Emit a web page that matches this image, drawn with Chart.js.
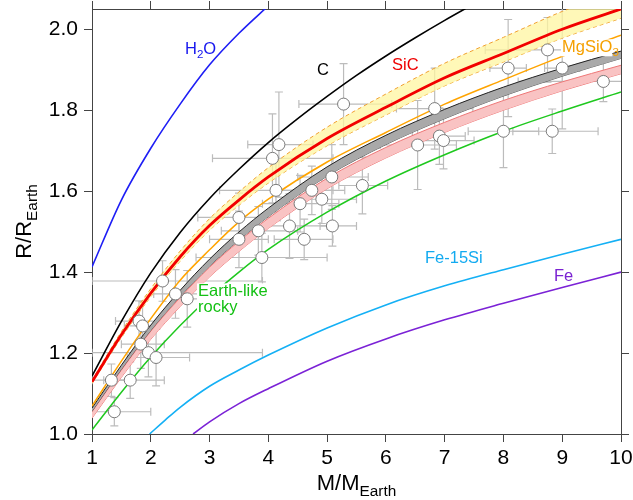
<!DOCTYPE html>
<html>
<head>
<meta charset="utf-8">
<script src="https://cdn.jsdelivr.net/npm/chart.js@4.4.1/dist/chart.umd.min.js"></script>
<style>
  html, body { margin: 0; padding: 0; background: #fff; }
  #wrap { width: 633px; height: 500px; }
</style>
</head>
<body>
<div id="wrap"><canvas id="chart" width="633" height="500"></canvas></div>
<script>
// Values (mass in M_Earth, radius in R_Earth)
const xTickValues = [1, 2, 3, 4, 5, 6, 7, 8, 9, 10];
const yTickValues = [1.0, 1.2, 1.4, 1.6, 1.8, 2.0];

const massGrid = [1, 1.5, 2, 2.5, 3, 3.5, 4, 5, 6, 7, 8, 9, 10];

const h2oMass = [1, 1.5, 2, 2.5, 3, 3.5, 4];
const h2oRadius = [1.413, 1.578, 1.706, 1.815, 1.912, 1.99, 2.058];

const carbonMass = [1, 1.5, 2, 2.5, 3, 3.5, 4, 4.5, 5, 5.5, 6, 6.5, 7, 7.5];
const carbonRadius = [1.143, 1.278, 1.398, 1.498, 1.582, 1.654, 1.72, 1.779, 1.834, 1.886, 1.934, 1.979, 2.022, 2.063];

const sicRadius = [1.129, 1.245, 1.348, 1.438, 1.515, 1.578, 1.635, 1.73, 1.807, 1.88, 1.94, 2.0, 2.05];
const sicUpper = [1.133, 1.253, 1.359, 1.452, 1.532, 1.598, 1.658, 1.758, 1.84, 1.916, 1.98, 2.044, 2.098];
const sicLower = [1.125, 1.238, 1.339, 1.427, 1.503, 1.565, 1.62, 1.712, 1.788, 1.86, 1.919, 1.978, 2.027];

const mgsio3Radius = [1.069, 1.18, 1.285, 1.38, 1.455, 1.524, 1.58, 1.672, 1.745, 1.815, 1.875, 1.933, 1.985];

const grayUpper = [1.064, 1.17, 1.269, 1.355, 1.432, 1.499, 1.558, 1.66, 1.738, 1.802, 1.857, 1.904, 1.946];
const grayLower = [1.056, 1.16, 1.256, 1.34, 1.415, 1.479, 1.537, 1.637, 1.715, 1.779, 1.835, 1.884, 1.928];
const pinkUpper = [1.055, 1.158, 1.254, 1.337, 1.412, 1.476, 1.533, 1.632, 1.708, 1.77, 1.824, 1.87, 1.911];
const pinkLower = [1.039, 1.14, 1.234, 1.315, 1.388, 1.451, 1.508, 1.606, 1.682, 1.745, 1.8, 1.848, 1.89];

const rockyRadius = [1.01, 1.103, 1.19, 1.268, 1.338, 1.4, 1.456, 1.548, 1.625, 1.69, 1.748, 1.798, 1.845];

const fe15siMass = [1.98, 2.25, 2.5, 3, 3.5, 4, 5, 6, 7, 8, 9, 10];
const fe15siRadius = [1.0, 1.035, 1.066, 1.118, 1.158, 1.195, 1.262, 1.319, 1.366, 1.406, 1.444, 1.481];

const feMass = [2.72, 3, 3.5, 4, 5, 6, 7, 8, 9, 10];
const feRadius = [1.0, 1.03, 1.075, 1.112, 1.18, 1.235, 1.282, 1.323, 1.362, 1.4];

// planets with error bars
const planetMass = [2.20, 2.42, 2.62, 1.80, 1.86, 1.83, 1.96, 2.09, 1.33, 1.65, 1.38,
  4.18, 4.07, 4.13, 3.50, 3.83, 3.50, 3.89, 4.36, 4.61, 4.54, 4.74, 4.91, 5.08, 5.09,
  5.28, 6.83, 6.91, 6.98, 6.54, 5.60, 8.75, 8.08, 9.00, 9.70, 8.00, 8.83];
const planetRadius = [1.378, 1.346, 1.334, 1.279, 1.267, 1.222, 1.201, 1.189, 1.133, 1.133, 1.055,
  1.715, 1.681, 1.602, 1.535, 1.502, 1.481, 1.436, 1.514, 1.481, 1.569, 1.602, 1.580, 1.635, 1.514,
  1.815, 1.804, 1.736, 1.725, 1.714, 1.614, 1.949, 1.904, 1.904, 1.871, 1.748, 1.748];
const massLow = [1.0, 2.05, 2.4, 1.4, 1.55, 1.5, 1.0, 1.6, 1.0, 1.2, 1.0,
  3.65, 3.05, 3.17, 2.8, 3.2, 3.0, 2.77, 3.7, 4.1, 3.9, 4.2, 4.3, 4.5, 4.88,
  4.52, 6.18, 6.45, 6.5, 5.9, 5.2, 7.69, 7.77, 8.7, 8.25, 7.4, 8.16];
const massHigh = [3.9, 2.8, 2.85, 2.2, 2.15, 2.23, 3.9, 2.66, 1.6, 2.23, 2.0,
  4.76, 5.1, 5.1, 4.2, 4.5, 4.0, 5.0, 5.0, 5.1, 5.2, 5.3, 5.5, 5.7, 5.5,
  6.1, 7.48, 7.35, 7.5, 7.2, 6.03, 9.13, 8.39, 9.3, 10.5, 8.6, 9.61];
const radiusErr = [0.05, 0.06, 0.07, 0.05, 0.06, 0.06, 0.06, 0.07, 0.04, 0.045, 0.035,
  0.13, 0.11, 0.07, 0.06, 0.06, 0.07, 0.06, 0.08, 0.05, 0.07, 0.06, 0.06, 0.08, 0.05,
  0.10, 0.10, 0.07, 0.07, 0.11, 0.07, 0.08, 0.12, 0.15, 0.05, 0.09, 0.055];

const FONT = "'Liberation Sans', Arial, Helvetica, sans-serif";

function pairs(xs, ys) {
  return xs.map((x, i) => ({ x: x, y: ys[i] }));
}

function curve(data, color, width, extra) {
  return Object.assign({
    type: 'line',
    data: data,
    borderColor: color,
    borderWidth: width,
    pointRadius: 0,
    fill: false,
    cubicInterpolationMode: 'monotone',
    order: 1
  }, extra || {});
}

// draws text made of normal / subscript parts, returns its width
function richText(ctx, parts, x, y, size, color, align) {
  let total = 0;
  parts.forEach(p => {
    ctx.font = (p[1] ? size * 0.7 : size) + 'px ' + FONT;
    p.w = ctx.measureText(p[0]).width;
    total += p.w;
  });
  let cx = align === 'center' ? x - total / 2 : x;
  ctx.fillStyle = color;
  ctx.textAlign = 'left';
  ctx.textBaseline = 'alphabetic';
  parts.forEach(p => {
    ctx.font = (p[1] ? size * 0.7 : size) + 'px ' + FONT;
    ctx.fillText(p[0], cx, y + (p[1] ? size * 0.25 : 0));
    cx += p.w;
  });
  return total;
}

const curveLabels = [
  { parts: [['H'], ['2', 1], ['O']], at: [2.582, 1.939], color: '#1717ee' },
  { parts: [['C']], at: [4.828, 1.886], color: '#000000' },
  { parts: [['SiC']], at: [6.104, 1.900], color: '#ee0000' },
  { parts: [['MgSiO'], ['3', 1]], at: [8.996, 1.943], color: '#f5a000', mask: true },
  { parts: [['Earth-like']], at: [2.803, 1.340], color: '#14c014', mask: true },
  { parts: [['rocky']], at: [2.803, 1.301], color: '#14c014', mask: true },
  { parts: [['Fe-15Si']], at: [6.665, 1.4225], color: '#12aaf0' },
  { parts: [['Fe']], at: [8.86, 1.377], color: '#7a22d2' }
];

const errorBars = {
  id: 'errorBars',
  beforeDatasetsDraw(chart) {
    const { ctx, chartArea, scales } = chart;
    const xs = scales.x, ys = scales.y;
    ctx.save();
    ctx.beginPath();
    ctx.rect(chartArea.left, chartArea.top, chartArea.right - chartArea.left, chartArea.bottom - chartArea.top);
    ctx.clip();
    ctx.strokeStyle = '#bcbcbc';
    ctx.lineWidth = 1.2;
    const cap = 4;
    planetMass.forEach((m, i) => {
      const px = xs.getPixelForValue(m);
      const py = ys.getPixelForValue(planetRadius[i]);
      const x0 = xs.getPixelForValue(massLow[i]);
      const x1 = xs.getPixelForValue(massHigh[i]);
      const y0 = ys.getPixelForValue(planetRadius[i] - radiusErr[i]);
      const y1 = ys.getPixelForValue(planetRadius[i] + radiusErr[i]);
      ctx.beginPath();
      ctx.moveTo(x0, py); ctx.lineTo(x1, py);
      ctx.moveTo(x0, py - cap); ctx.lineTo(x0, py + cap);
      ctx.moveTo(x1, py - cap); ctx.lineTo(x1, py + cap);
      ctx.moveTo(px, y0); ctx.lineTo(px, y1);
      ctx.moveTo(px - cap, y0); ctx.lineTo(px + cap, y0);
      ctx.moveTo(px - cap, y1); ctx.lineTo(px + cap, y1);
      ctx.stroke();
    });
    ctx.restore();
  }
};

const labelsPlugin = {
  id: 'curveLabels',
  afterDatasetsDraw(chart) {
    const { ctx, scales } = chart;
    ctx.save();
    curveLabels.forEach(l => {
      const x = scales.x.getPixelForValue(l.at[0]);
      const y = scales.y.getPixelForValue(l.at[1]);
      if (l.mask) {
        ctx.font = '16.5px ' + FONT;
        let w = 0;
        l.parts.forEach(p => { if (!p[1]) w += ctx.measureText(p[0]).width; });
        ctx.fillStyle = '#ffffff';
        ctx.fillRect(x - 1, y - 13, w + 1, 17);
      }
      richText(ctx, l.parts, x, y, 16.5, l.color, 'left');
    });
    ctx.restore();
  }
};

const axisTitles = {
  id: 'axisTitles',
  afterDraw(chart) {
    const { ctx, chartArea } = chart;
    ctx.save();
    const cx = (chartArea.left + chartArea.right) / 2;
    richText(ctx, [['M/M'], ['Earth', 1]], cx, 490, 22, '#000', 'center');
    const cy = (chartArea.top + chartArea.bottom) / 2;
    ctx.translate(31, cy);
    ctx.rotate(-Math.PI / 2);
    richText(ctx, [['R/R'], ['Earth', 1]], 0, 0, 22, '#000', 'center');
    ctx.restore();
  }
};

function fixSize(prop, val) {
  return function (s) {
    s[prop] = val;
    s.paddingLeft = 0; s.paddingRight = 0; s.paddingTop = 0; s.paddingBottom = 0;
  };
}

const frame = { color: '#444', width: 1 };
const tickGrid = { drawOnChartArea: false, drawTicks: true, tickLength: 8, color: '#444', lineWidth: 1 };

new Chart(document.getElementById('chart'), {
  data: {
    datasets: [
      {
        type: 'scatter',
        data: pairs(planetMass, planetRadius),
        pointRadius: 6,
        pointBackgroundColor: '#ffffff',
        pointBorderColor: '#7a7a7a',
        pointBorderWidth: 1,
        order: 0
      },
      curve(pairs(h2oMass, h2oRadius), '#1e1ef5', 1.6),
      curve(pairs(carbonMass, carbonRadius), '#000000', 1.6),
      curve(pairs(massGrid, sicRadius), '#f20000', 2.8),
      curve(pairs(massGrid, mgsio3Radius), '#ffa400', 1.5),
      curve(pairs(massGrid, rockyRadius), '#1ec81e', 1.5),
      curve(pairs(fe15siMass, fe15siRadius), '#14b0f5', 1.6),
      curve(pairs(feMass, feRadius), '#7b22d6', 1.6),
      curve(pairs(massGrid, sicUpper), '#f0a030', 1, { borderDash: [4, 3], fill: '+1', backgroundColor: 'rgba(255, 246, 160, 0.75)', order: 2 }),
      curve(pairs(massGrid, sicLower), '#f0a030', 1, { borderDash: [4, 3], order: 2 }),
      curve(pairs(massGrid, grayUpper), '#222222', 1, { fill: '+1', backgroundColor: '#a9a9a9', order: 3 }),
      curve(pairs(massGrid, grayLower), '#333333', 0.8, { order: 3 }),
      curve(pairs(massGrid, pinkUpper), '#ee7777', 1, { fill: '+1', backgroundColor: '#f9c3c3', order: 4 }),
      curve(pairs(massGrid, pinkLower), '#ee7777', 1, { order: 4 })
    ]
  },
  options: {
    responsive: false,
    animation: false,
    devicePixelRatio: 1,
    events: [],
    layout: { padding: 0 },
    plugins: {
      legend: { display: false },
      tooltip: { enabled: false }
    },
    scales: {
      x: {
        type: 'linear', position: 'bottom', min: 1, max: 10,
        afterBuildTicks: s => { s.ticks = xTickValues.map(v => ({ value: v })); },
        ticks: { font: { family: FONT, size: 21 }, color: '#000', padding: 4, maxRotation: 0, autoSkip: false, callback: v => String(v) },
        grid: tickGrid, border: frame,
        afterFit: fixSize('height', 66)
      },
      x2: {
        type: 'linear', position: 'top', min: 1, max: 10,
        afterBuildTicks: s => { s.ticks = xTickValues.map(v => ({ value: v })); },
        ticks: { display: false },
        grid: tickGrid, border: frame,
        afterFit: fixSize('height', 9)
      },
      y: {
        type: 'linear', position: 'left', min: 1, max: 2.05,
        afterBuildTicks: s => { s.ticks = yTickValues.map(v => ({ value: v })); },
        ticks: { font: { family: FONT, size: 21 }, color: '#000', padding: 6, callback: v => Number(v).toFixed(1) },
        grid: tickGrid, border: frame,
        afterFit: fixSize('width', 92)
      },
      y2: {
        type: 'linear', position: 'right', min: 1, max: 2.05,
        afterBuildTicks: s => { s.ticks = yTickValues.map(v => ({ value: v })); },
        ticks: { display: false },
        grid: tickGrid, border: frame,
        afterFit: fixSize('width', 12)
      }
    }
  },
  plugins: [errorBars, labelsPlugin, axisTitles]
});
</script>
</body>
</html>
